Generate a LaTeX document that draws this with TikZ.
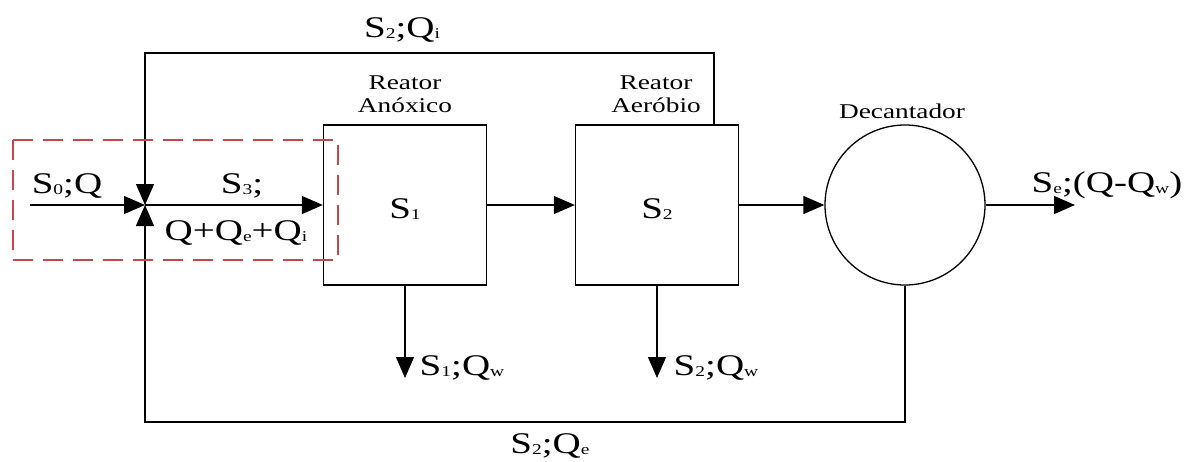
\documentclass[tikz,border=0pt]{standalone}
\usepackage{fontspec}
\setmainfont{Liberation Serif}
\usepackage{graphicx}
\usetikzlibrary{arrows.meta}
\definecolor{dashred}{RGB}{196,72,72}
\newcommand\wx[1]{\scalebox{1.3}[1]{#1}}
\newcommand\sbs[1]{\raisebox{-1pt}{\fontsize{15}{15}\selectfont #1}}
\begin{document}
\begin{tikzpicture}[x=1pt,y=-1pt, line width=1.3pt,
  flow/.style={-{Triangle[length=21pt,width=18pt]}},
  lab/.style={font=\fontsize{30}{30}\selectfont, inner sep=0pt, anchor=base},
  small/.style={font=\fontsize{21}{23}\selectfont, inner sep=0pt, align=center},
  unit/.style={draw, line width=1.3pt, minimum width=163pt, minimum height=160pt, inner sep=0pt},
  tank/.style={draw, circle, line width=1.3pt, minimum size=160pt, inner sep=0pt}]
\useasboundingbox (0,0) rectangle (1197,461);
% units
\node[unit] (b1) at (405,205) {};
\node[unit] (b2) at (657,205) {};
\node[tank] (dec) at (905,205) {};
% coordinates
\coordinate (in) at (30,205);
\coordinate (j) at (145,205);
\coordinate (tl) at (145,53);
\coordinate (tr) at (714,53);
\coordinate (b2top) at (714,125);
\coordinate (bl) at (145,422);
\coordinate (br) at (905,422);
\coordinate (out) at (1075,205);
\coordinate (w1) at (405,378);
\coordinate (w2) at (657,378);
% connectors
\draw[flow] (in) -- (j);
\draw[flow] (b2top) -- (tr) -- (tl) -- (j);
\draw[flow] (dec.south) -- (br) -- (bl) -- (j);
\draw[flow] (j) -- (b1.west);
\draw[flow] (b1.east) -- (b2.west);
\draw[flow] (b2.east) -- (dec.west);
\draw[flow] (dec.east) -- (out);
\draw[flow] (b1.south) -- (w1);
\draw[flow] (b2.south) -- (w2);
% dashed frame
\draw[dashred, line width=1.3pt, dash pattern=on 20pt off 10pt] (13,140) rectangle (338,260);
% labels
\node[lab] (l0) at (67,193) {\wx{S\sbs{0};Q}};
\node[lab] (l3) at (242,193) {\wx{S\sbs{3};}};
\node[lab] (lq) at (236,240) {\wx{Q+Q\sbs{e}+Q\sbs{i}}};
\node[lab] (li) at (402,37) {\wx{S\sbs{2};Q\sbs{i}}};
\node[lab] (ls1) at (405,218) {\wx{S\sbs{1}}};
\node[lab] (ls2) at (657,218) {\wx{S\sbs{2}}};
\node[lab] (lw1) at (462,375) {\wx{S\sbs{1};Q\sbs{w}}};
\node[lab] (lw2) at (716,375) {\wx{S\sbs{2};Q\sbs{w}}};
\node[lab] (le) at (550,453) {\wx{S\sbs{2};Q\sbs{e}}};
\node[lab] (lo) at (1107,192) {\wx{S\sbs{e};(Q-Q\sbs{w})}};
\node[small] (r1) at (405,94) {\wx{Reator}\\\wx{Anóxico}};
\node[small] (r2) at (656,94) {\wx{Reator}\\\wx{Aeróbio}};
\node[small, anchor=base] (rd) at (902,118) {\wx{Decantador}};
\end{tikzpicture}
\end{document}
